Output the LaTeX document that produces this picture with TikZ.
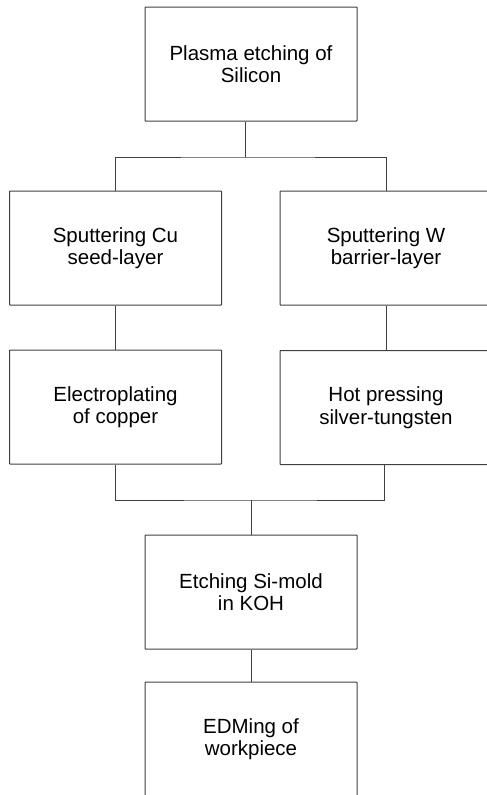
\documentclass[tikz,border=0pt]{standalone}
\usepackage{fontspec}
\setmainfont{Liberation Sans}
\begin{document}
\begin{tikzpicture}[x=1pt,y=-1pt,
  box/.style={draw=black!75, line width=1pt, minimum width=212pt, minimum height=114pt,
    inner sep=0pt, align=center, font=\fontsize{20.5}{22.5}\selectfont, rounded corners=0.6pt},
  link/.style={draw=black!75, line width=1pt}]
\useasboundingbox (0,0) rectangle (487,795);
\clip (0,0) rectangle (487,795);
\node[box] (plasma) at (251,64) {Plasma etching of\\Silicon};
\node[box] (cu) at (115.5,248) {Sputtering Cu\\seed-layer};
\node[box] (w) at (386,248) {Sputtering W\\barrier-layer};
\node[box] (elec) at (115.5,407) {Electroplating\\of copper};
\node[box] (hot) at (386,407.5) {Hot pressing\\silver-tungsten};
\node[box] (etch) at (251,592) {Etching Si-mold\\in KOH};
\node[box] (edm) at (251,739) {EDMing of\\workpiece};
\coordinate (j1) at (245,157);
\coordinate (j2) at (251,500);
\draw[link] ([xshift=-6pt]plasma.south) -- (j1);
\draw[link] (cu.north) |- (j1) -| (w.north);
\draw[link] (cu.south) -- (elec.north);
\draw[link] (w.south) -- (hot.north);
\draw[link] (elec.south) |- (j2) -| ([xshift=-2pt]hot.south);
\draw[link] (j2) -- (etch.north);
\draw[link] (etch.south) -- (edm.north);
\end{tikzpicture}
\end{document}
